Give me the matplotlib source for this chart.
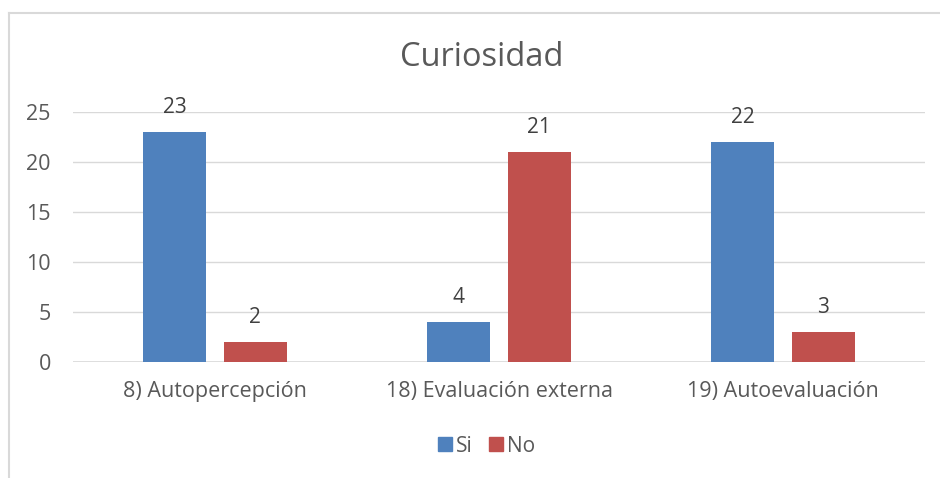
import matplotlib
matplotlib.use("Agg")
import matplotlib.pyplot as plt
import numpy as np
from matplotlib.lines import Line2D

categories = ["8) Autopercepción", "18) Evaluación externa", "19) Autoevaluación"]
si_values = [23, 4, 22]
no_values = [2, 21, 3]
series_names = ["Si", "No"]
yticks = [0, 5, 10, 15, 20, 25]
title = "Curiosidad"

plt.rcParams['font.family'] = ['Open Sans', 'DejaVu Sans']
txt = '#595959'
blue = '#4F81BD'
red = '#C0504D'

fig = plt.figure(figsize=(9.4, 4.78), dpi=100)
ax = fig.add_axes([73/940, 1-362/478, (925-73)/940, 250/478])

x = np.arange(len(categories))
w = 0.222
off = 0.141
b1 = ax.bar(x - off, si_values, w, color=blue, zorder=3)
b2 = ax.bar(x + off, no_values, w, color=red, zorder=3)
for bars, vals in ((b1, si_values), (b2, no_values)):
    for r, v in zip(bars, vals):
        ax.text(r.get_x() + r.get_width()/2, v + 2.45, str(v), ha='center', va='center',
                fontsize=15, color='#404040')

ax.set_xlim(-0.5, len(categories) - 0.5)
ax.set_ylim(0, 25)
ax.set_yticks(yticks)
ax.set_yticklabels([str(t) for t in yticks], fontsize=15.5, color=txt)
ax.set_xticks(x)
ax.set_xticklabels(categories, fontsize=15.5, color=txt)
ax.tick_params(axis='both', length=0)
ax.tick_params(axis='y', pad=16)
ax.tick_params(axis='x', pad=14)
ax.grid(axis='y', color='#D9D9D9', linewidth=1, zorder=0)
for s in ax.spines.values():
    s.set_visible(False)
ax.axhline(0, color='#D9D9D9', linewidth=1.2, zorder=2)

fig.text(482/940, 1-57/478, title, ha='center', va='center', fontsize=23.5, color=txt)

handles = [Line2D([], [], marker='s', linestyle='none', markersize=10, color=blue),
           Line2D([], [], marker='s', linestyle='none', markersize=10, color=red)]
leg = fig.legend(handles, series_names, loc='center', bbox_to_anchor=(485/940, 1-446/478),
                 ncol=2, frameon=False, fontsize=15, handletextpad=0.05, columnspacing=0.6,
                 handlelength=1.0)
for t in leg.get_texts():
    t.set_color(txt)

# chart border (top and left visible)
fig.add_artist(Line2D([9/940, 1], [1-13/478, 1-13/478], color='#D9D9D9', linewidth=1.5))
fig.add_artist(Line2D([9/940, 9/940], [0, 1-13/478], color='#D9D9D9', linewidth=1.5))

fig.savefig("out.png", dpi=100)
